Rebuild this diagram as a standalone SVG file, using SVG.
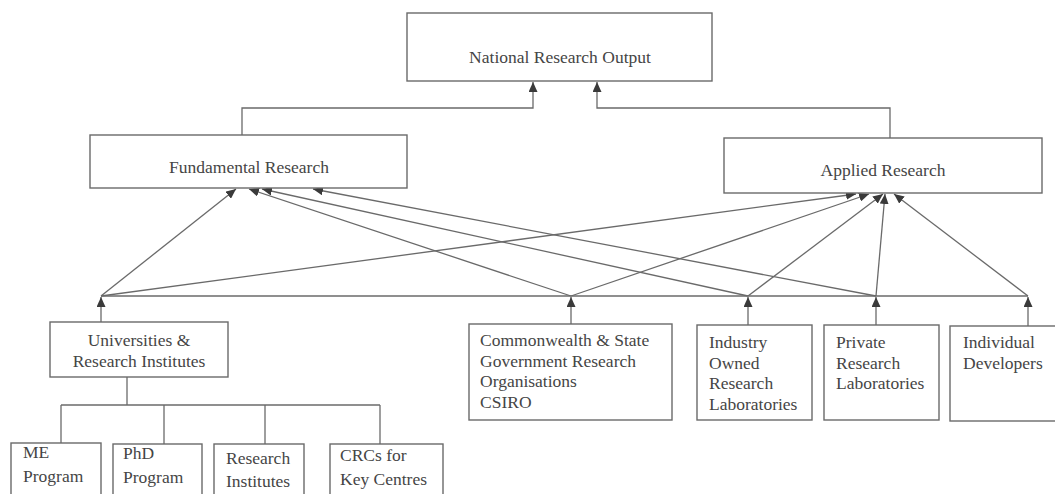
<svg xmlns="http://www.w3.org/2000/svg" width="1055" height="494" viewBox="0 0 1055 494">
<style>
.box{fill:#fff;stroke:#6a6a6a;stroke-width:1.4}
.ln{fill:none;stroke:#6a6a6a;stroke-width:1.3}
.arr{marker-end:url(#ah)}
text{font-family:"Liberation Serif","Times New Roman",serif;font-size:17.5px;fill:#454545}
.c{text-anchor:middle}
</style>
<defs>
<marker id="ah" markerUnits="userSpaceOnUse" markerWidth="10" markerHeight="9" refX="10" refY="4.5" orient="auto">
<path d="M0,0 L10,4.5 L0,9 z" fill="#3a3a3a"/>
</marker>
</defs>
<rect width="1055" height="494" fill="#fff"/>

<g id="connectors">
<polyline class="ln arr" points="242,135 242,108 533,108 533,82"/>
<polyline class="ln arr" points="890,138 890,108 597,108 597,82"/>
<line class="ln" x1="101" y1="296" x2="1028" y2="296"/>
<line class="ln arr" x1="101" y1="322" x2="101" y2="297"/>
<line class="ln arr" x1="571" y1="324" x2="571" y2="297"/>
<line class="ln arr" x1="748" y1="325" x2="748" y2="297"/>
<line class="ln arr" x1="876" y1="325" x2="876" y2="297"/>
<line class="ln arr" x1="1028" y1="326" x2="1028" y2="297"/>
<line class="ln arr" x1="101" y1="296" x2="236" y2="189"/>
<line class="ln arr" x1="571" y1="296" x2="249" y2="189"/>
<line class="ln arr" x1="748" y1="296" x2="262" y2="189"/>
<line class="ln arr" x1="876" y1="296" x2="313" y2="189"/>
<line class="ln arr" x1="101" y1="296" x2="856" y2="194"/>
<line class="ln arr" x1="571" y1="296" x2="869" y2="194"/>
<line class="ln arr" x1="748" y1="296" x2="883" y2="194"/>
<line class="ln arr" x1="876" y1="296" x2="885" y2="194"/>
<line class="ln arr" x1="1028" y1="296" x2="894" y2="194"/>
<line class="ln" x1="127" y1="377" x2="127" y2="405"/>
<line class="ln" x1="61" y1="405" x2="380" y2="405"/>
<line class="ln" x1="61" y1="405" x2="61" y2="443"/>
<line class="ln" x1="164" y1="405" x2="164" y2="444"/>
<line class="ln" x1="265" y1="405" x2="265" y2="444"/>
<line class="ln" x1="380" y1="405" x2="380" y2="444"/>
</g>

<g id="national">
<rect class="box" x="407" y="13" width="305" height="68"/>
<text class="c" x="560" y="63">National Research Output</text>
</g>
<g id="fundamental">
<rect class="box" x="90" y="135" width="317" height="53"/>
<text class="c" x="249" y="173">Fundamental Research</text>
</g>
<g id="applied">
<rect class="box" x="724" y="138" width="318" height="55"/>
<text class="c" x="883" y="176">Applied Research</text>
</g>
<g id="universities">
<rect class="box" x="50" y="322" width="178" height="55"/>
<text class="c"><tspan x="139" y="346">Universities &amp;</tspan><tspan x="139" y="367">Research Institutes</tspan></text>
</g>
<g id="commonwealth">
<rect class="box" x="469" y="324" width="203" height="96"/>
<text><tspan x="480" y="346">Commonwealth &amp; State</tspan><tspan x="480" y="366.5">Government Research</tspan><tspan x="480" y="387">Organisations</tspan><tspan x="480" y="407.5">CSIRO</tspan></text>
</g>
<g id="industry">
<rect class="box" x="697" y="325" width="115" height="95"/>
<text><tspan x="709" y="348">Industry</tspan><tspan x="709" y="368.7">Owned</tspan><tspan x="709" y="389.4">Research</tspan><tspan x="709" y="410">Laboratories</tspan></text>
</g>
<g id="private">
<rect class="box" x="824" y="325" width="115" height="95"/>
<text><tspan x="836" y="348">Private</tspan><tspan x="836" y="368.7">Research</tspan><tspan x="836" y="389.4">Laboratories</tspan></text>
</g>
<g id="individual">
<rect class="box" x="950" y="326" width="115" height="95"/>
<text><tspan x="963" y="348">Individual</tspan><tspan x="963" y="368.7">Developers</tspan></text>
</g>
<g id="me">
<rect class="box" x="11" y="443" width="90" height="60"/>
<text><tspan x="23" y="458">ME</tspan><tspan x="23" y="482">Program</tspan></text>
</g>
<g id="phd">
<rect class="box" x="113" y="444" width="89" height="60"/>
<text><tspan x="123" y="459">PhD</tspan><tspan x="123" y="483">Program</tspan></text>
</g>
<g id="research-institutes">
<rect class="box" x="214" y="444" width="90" height="60"/>
<text><tspan x="226" y="464">Research</tspan><tspan x="226" y="487">Institutes</tspan></text>
</g>
<g id="crcs">
<rect class="box" x="330" y="444" width="113" height="60"/>
<text><tspan x="340" y="461">CRCs for</tspan><tspan x="340" y="485">Key Centres</tspan></text>
</g>
</svg>
